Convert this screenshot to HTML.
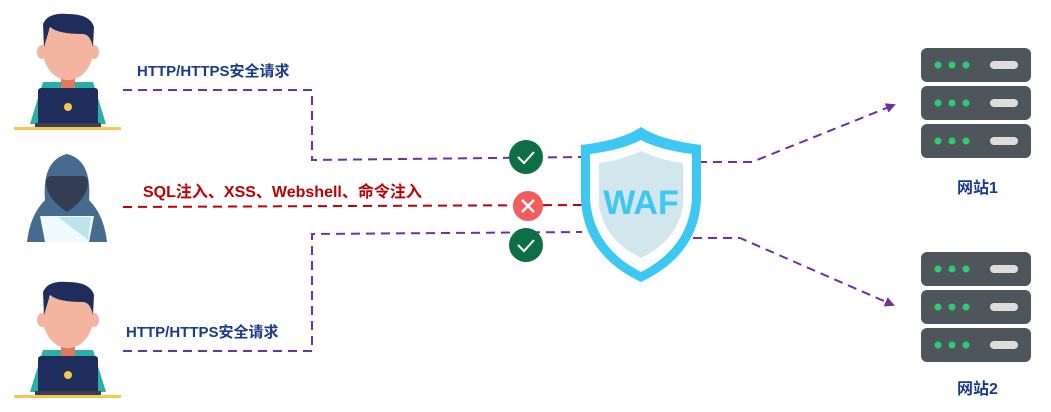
<!DOCTYPE html>
<html><head><meta charset="utf-8"><style>
body{margin:0;background:#fff;width:1051px;height:412px;overflow:hidden;position:relative;font-family:"Liberation Sans","Noto Sans CJK SC",sans-serif}
.t{position:absolute;font-weight:bold;font-size:15px;white-space:nowrap}
</style></head><body>
<svg width="1051" height="412" style="position:absolute;left:0;top:0">
<defs>
<marker id="ar" markerWidth="10" markerHeight="10" refX="8" refY="5" orient="auto" markerUnits="userSpaceOnUse"><path d="M0,0 L10,5 L0,10 Z" fill="#7030a0"/></marker>
<g id="user">
<rect x="-54" y="115" width="107" height="3" fill="#f2c94c"/>
<path d="M-38,112 L-25,70 L25,70 L38,112 Z" fill="#2aafa8"/>
<rect x="-7" y="62" width="14" height="14" fill="#e07a5f"/>
<ellipse cx="0" cy="38" rx="25" ry="30" fill="#f3b5a0"/>
<ellipse cx="-26" cy="40" rx="5" ry="7" fill="#f3b5a0"/><ellipse cx="26" cy="40" rx="5" ry="7" fill="#f3b5a0"/>
<path d="M-24,35 L-25,12 Q-20,0 0,2 Q22,2 26,15 L25,35 Q22,22 15,22 Q-10,22 -18,15 Z" fill="#1f2d5c"/>
<rect x="-30" y="76" width="60" height="38" rx="3" fill="#1f2d5c"/>
<rect x="-33" y="111" width="66" height="4" fill="#3a3f55"/>
<circle cx="0" cy="95" r="4" fill="#f2c94c"/>
</g>
<g id="srv">
<rect x="0" y="0" width="110" height="34" rx="6" fill="#4e555b"/>
<circle cx="17" cy="17" r="3.5" fill="#2ecc71"/><circle cx="31" cy="17" r="3.5" fill="#2ecc71"/><circle cx="45" cy="17" r="3.5" fill="#2ecc71"/>
<rect x="69" y="13" width="28" height="8" rx="4" fill="#ddd"/>
</g>
</defs>
<use href="#user" x="68" y="12"/>
<use href="#user" x="68" y="280"/>
<path d="M27,242 Q30,215 45,200 Q42,160 67,154 Q92,160 89,200 Q104,215 107,242 Z" fill="#466b8f"/>
<path d="M46,182 Q46,176 52,176 L82,176 Q88,176 88,182 Q88,198 67,212 Q46,198 46,182 Z" fill="#333e55"/>
<path d="M40,216 L94,216 L89,242 L45,242 Z" fill="#eefafc"/>
<path d="M58,217 L91,217 L88,240 Z" fill="#bfe3ea"/>
<g fill="none" stroke-width="2" stroke-dasharray="9,6">
<polyline points="123,90 312,90 312,160 582,157" stroke="#7030a0"/>
<polyline points="123,207 582,205" stroke="#c00000"/>
<polyline points="123,351 312,351 312,234 582,232" stroke="#7030a0"/>
<polyline points="698,162 752,162 894,105" stroke="#7030a0" marker-end="url(#ar)"/>
<polyline points="693,238 740,238 893,305" stroke="#7030a0" marker-end="url(#ar)"/>
</g>
<circle cx="526" cy="157" r="17" fill="#0e6e45"/><path d="M518,157 L524,163 L534,152" stroke="#fff" stroke-width="2" fill="none"/>
<circle cx="528" cy="206" r="15" fill="#f25c5c"/><path d="M522,200 L534,212 M534,200 L522,212" stroke="#fff" stroke-width="2.5"/>
<circle cx="526" cy="245" r="17" fill="#0e6e45"/><path d="M518,245 L524,251 L534,240" stroke="#fff" stroke-width="2" fill="none"/>
<path d="M641,127 Q660,140 701,145 L701,200 Q698,255 641,282 Q584,255 581,200 L581,145 Q622,140 641,127 Z" fill="#3cc8f2"/>
<path d="M641,140 Q660,150 692,154 L692,200 Q688,248 641,272 Q594,248 590,200 L590,154 Q622,150 641,140 Z" fill="#fff"/>
<path d="M641,151 Q660,160 683,163 L683,205 Q678,240 641,258 Q604,240 599,205 L599,163 Q622,160 641,151 Z" fill="#d2e6ee"/>
<text x="641" y="214" text-anchor="middle" font-family="Liberation Sans,sans-serif" font-size="34" font-weight="bold" fill="#3cc8f2">WAF</text>
<use href="#srv" x="921" y="48"/><use href="#srv" x="921" y="86"/><use href="#srv" x="921" y="124"/>
<use href="#srv" x="921" y="252"/><use href="#srv" x="921" y="290"/><use href="#srv" x="921" y="328"/>
</svg>
<div class="t" style="left:137px;top:60px;color:#1a3a8a">HTTP/HTTPS安全请求</div>
<div class="t" style="left:143px;top:178px;color:#c00000;font-size:16px">SQL注入、XSS、Webshell、命令注入</div>
<div class="t" style="left:126px;top:321px;color:#1a3a8a">HTTP/HTTPS安全请求</div>
<div class="t" style="left:957px;top:174px;color:#1a3a8a;font-size:16px">网站1</div>
<div class="t" style="left:957px;top:375px;color:#1a3a8a;font-size:16px">网站2</div>
</body></html>
